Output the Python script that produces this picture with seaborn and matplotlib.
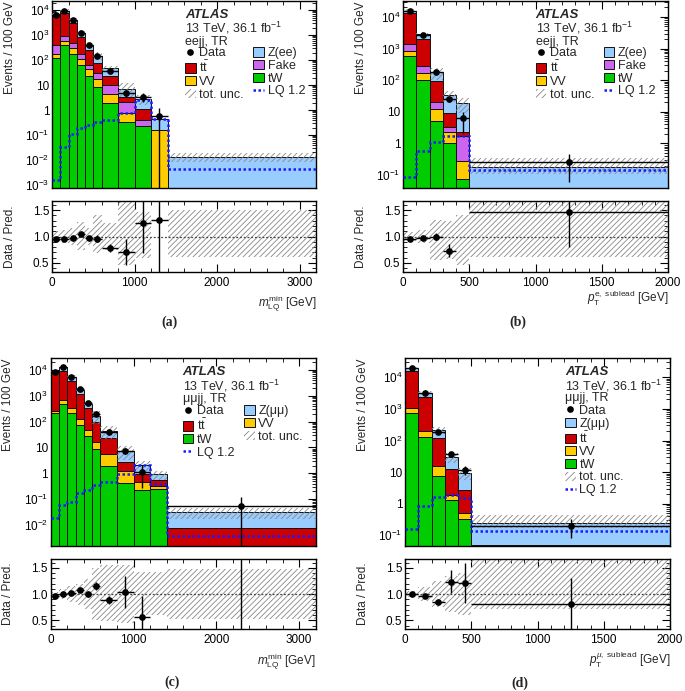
import numpy as np
import pandas as pd
import matplotlib
matplotlib.use("Agg")
import matplotlib.pyplot as plt
import seaborn as sns
from matplotlib.ticker import (FixedLocator, FuncFormatter, MultipleLocator,
                               LogLocator, NullFormatter, FormatStrFormatter)
from matplotlib.patches import Patch
from matplotlib.lines import Line2D

# ---------------- data (values per 100 GeV) ----------------
# (a) eejj, m_LQ^min
A_EDGES = [0, 100, 200, 300, 400, 500, 600, 800, 1000, 1200, 1400, 3200]
A_Z = [700, 1500, 1000, 340, 150, 67, 23, 3.4, 1.63, 0.27, 0.013]
A_TT = [5600, 6960, 2640, 686, 187, 49, 13, 1.3, 0.67, 0, 0]
A_FAKE = [215, 350, 170, 67, 21, 12, 5.6, 1.36, 0.17, 0, 0]
A_VV = [55, 190, 120, 44, 19, 9, 2.45, 0.42, 0, 0.16, 0]
A_TW = [120, 400, 170, 63, 23, 8, 1.95, 0.32, 0.23, 0, 0]
A_LQ = [0.0016, 0.032, 0.11, 0.19, 0.25, 0.33, 0.4, 0.75, 2.6, 0.42, 0.0044]
A_DATA = [6370, 9020, 4020, 1260, 388, 139, 36, 4.8, 3.4, 0.57, np.nan]
A_DATA_ERR = [80, 95, 63, 35, 20, 12, 4.2, 1.6, 1.3, 0.6, np.nan]
A_RATIO = [0.95, 0.96, 0.98, 1.05, 0.97, 0.96, 0.78, 0.71, 1.25, 1.32, np.nan]
A_RATIO_ERR = [0.015, 0.015, 0.02, 0.03, 0.04, 0.06, 0.07, 0.25, 0.57, 1.4, np.nan]
A_UNC_LO = [0.9, 0.88, 0.84, 0.75, 0.84, 0.69, 0.75, 0.47, 0.6, 1.0, 0.62]
A_UNC_HI = [1.1, 1.12, 1.16, 1.27, 1.16, 1.4, 1.25, 1.75, 1.47, 1.0, 1.5]

# (b) eejj, pT sublead electron
B_EDGES = [0, 100, 200, 300, 400, 500, 2000]
B_Z = [2600, 840, 88, 25.5, 17.2, 0.18]
B_TT = [11960, 1680, 74, 6.1, 0.6, 0]
B_FAKE = [590, 110, 9, 1.1, 1.42, 0]
B_VV = [280, 65, 6.7, 1.3, 0.21, 0]
B_TW = [570, 105, 5.3, 1.0, 0.074, 0]
B_LQ = [0.09, 0.58, 1.15, 1.7, 1.7, 0.145]
B_DATA = [15400, 2740, 183, 25.5, 6.2, 0.26]
B_DATA_ERR = [124, 52, 13.5, 5, 4, 0.2]
B_RATIO = [0.96, 0.98, 1.0, 0.73, np.nan, 1.46]
B_RATIO_ERR = [0.01, 0.02, 0.06, 0.12, np.nan, 0.65]
B_UNC_LO = [0.91, 0.88, 0.55, 0.58, 0.47, 0.62]
B_UNC_HI = [1.09, 1.12, 1.32, 1.3, 1.4, 1.9]

# (c) mumujj, m_LQ^min
C_EDGES = [0, 100, 200, 300, 400, 500, 600, 800, 1000, 1200, 1400, 3200]
C_Z = [600, 3700, 1700, 430, 150, 67, 20.6, 4.45, 1.15, 0.36, 0.0246]
C_TT = [7840, 8530, 3350, 1070, 304, 82, 17.6, 1.55, 0.44, 0.22, 0.0074]
C_VV = [40, 200, 133, 58, 19, 7, 3.8, 0.77, 0.24, 0.07, 0]
C_TW = [220, 470, 217, 72, 27, 9, 2.0, 0.43, 0.22, 0.25, 0]
C_LQ = [0.018, 0.057, 0.08, 0.17, 0.22, 0.35, 0.45, 0.95, 2.1, 0.38, 0.0036]
C_DATA = [8440, 12900, 5510, 1760, 505, 190, 39, 7.5, 1.17, np.nan, 0.056]
C_DATA_ERR = [92, 114, 74, 42, 22, 14, 4.4, 1.9, 0.9, np.nan, 0.06]
C_RATIO = [0.97, 1.0, 1.02, 1.08, 1.01, 1.15, 0.89, 1.04, 0.57, np.nan, 1.75]
C_RATIO_ERR = [0.01, 0.01, 0.015, 0.025, 0.04, 0.08, 0.07, 0.3, 0.4, np.nan, 1.8]
C_UNC_LO = [0.95, 0.9, 0.85, 0.8, 0.72, 0.5, 0.48, 0.45, 0.6, 0.6, 0.52]
C_UNC_HI = [1.05, 1.1, 1.15, 1.2, 1.28, 1.5, 1.55, 1.55, 1.42, 1.42, 1.48]

# (d) mumujj, pT sublead muon
D_EDGES = [0, 100, 200, 300, 400, 500, 2000]
D_Z = [4100, 900, 92, 17.4, 6.9, 0.19]
D_TT = [14830, 2100, 107.5, 10.65, 2.19, 0.05]
D_VV = [330, 72, 7.7, 0.65, 0.18, 0]
D_TW = [740, 128, 7.8, 1.3, 0.33, 0]
D_LQ = [0.16, 0.87, 1.6, 1.95, 1.5, 0.14]
D_DATA = [20200, 3100, 183, 37, 11.7, 0.2]
D_DATA_ERR = [140, 56, 13.5, 6, 3.4, 0.12]
D_RATIO = [1.01, 0.97, 0.85, 1.24, 1.22, 0.82]
D_RATIO_ERR = [0.01, 0.02, 0.04, 0.22, 0.38, 0.48]
D_UNC_LO = [0.94, 0.86, 0.75, 0.66, 0.6, 0.71]
D_UNC_HI = [1.06, 1.14, 1.25, 1.34, 1.4, 1.9]

# ---------------- style ----------------
sns.set_theme(style="ticks")
plt.rcParams.update({
    "font.family": ["Liberation Sans", "DejaVu Sans"],
    "mathtext.fontset": "custom",
    "mathtext.rm": "Liberation Sans",
    "mathtext.it": "Liberation Sans:italic",
    "mathtext.bf": "Liberation Sans:bold",
    "axes.linewidth": 1.0,
    "axes.edgecolor": "black",
    "hatch.linewidth": 0.6,
    "font.size": 8.5,
})

COL = {"Z": "#99ccff", "tt": "#cc0000", "Fake": "#cc66ee", "VV": "#ffcc00", "tW": "#00cc00"}
LQ_COL = "#1a1aff"
HATCH_COL = "#888888"
HATCH = "//////"
FS = 8.5
MS = 3.8

fig = plt.figure(figsize=(6.85, 6.91), dpi=100)


def add_axes(left, top, w, h):
    return fig.add_axes([left / 685, 1 - (top + h) / 691, w / 685, h / 691])


def logfmt(v, pos):
    e = int(round(np.log10(v)))
    if e == 0:
        return "1"
    if e == 1:
        return "10"
    return r"$10^{%d}$" % e


def draw_panel(main_box, ratio_box, edges, comps, lq, data, data_err, ratio,
               ratio_err, unc_lo, unc_hi, ylim, xmax, xmaj, xmin_, xlabel,
               chan, legend_cols, tx, xlab_dy, ncol):
    ax = add_axes(*main_box)
    axr = add_axes(*ratio_box)
    edges_list = [float(e) for e in edges]
    edges = np.asarray(edges_list)
    centers = 0.5 * (edges[:-1] + edges[1:])
    widths = np.diff(edges)
    rows = []
    order = []
    for name, vals in comps:
        order.append(name)
        for c, v in zip(centers, vals):
            rows.append((float(c), float(v), name))
    df = pd.DataFrame(rows, columns=["x", "w", "proc"])
    sns.histplot(data=df, x="x", weights="w", hue="proc", hue_order=order,
                 palette={k: COL[k] for k in order}, bins=edges_list,
                 multiple="stack", element="bars", alpha=1, shrink=1,
                 edgecolor="#111111", linewidth=0.7, legend=False, ax=ax)
    total = np.sum([np.asarray(v, float) for _, v in comps], axis=0)
    lo = total * np.asarray(unc_lo)
    hi = total * np.asarray(unc_hi)
    ax.bar(edges[:-1], hi - lo, bottom=lo, width=widths, align="edge",
           facecolor="none", edgecolor=HATCH_COL, hatch=HATCH, lw=0, zorder=3)
    ax.stairs(lq, edges, baseline=None, color=LQ_COL, ls=(0, (1, 1)), lw=1.8, zorder=4)
    ax.errorbar(centers, data, yerr=data_err, xerr=widths / 2, fmt="o", ms=MS,
                color="black", elinewidth=1, capsize=0, zorder=5)
    ax.set_yscale("log")
    ax.set_ylim(*ylim)
    ax.set_xlim(0, xmax)
    ax.set_xlabel("")
    ax.set_ylabel("Events / 100 GeV", fontsize=FS, loc="top")
    ax.yaxis.set_label_coords(-0.137, 1.0)
    ax.yaxis.set_major_locator(LogLocator(base=10, numticks=20))
    ax.yaxis.set_minor_locator(LogLocator(base=10, subs=np.arange(2, 10), numticks=20))
    ax.yaxis.set_major_formatter(FuncFormatter(logfmt))
    ax.yaxis.set_minor_formatter(NullFormatter())
    ax.tick_params(labelbottom=False)

    # ratio
    rlo = np.asarray(unc_lo)
    rhi = np.asarray(unc_hi)
    axr.bar(edges[:-1], rhi - rlo, bottom=rlo, width=widths, align="edge",
            facecolor="none", edgecolor=HATCH_COL, hatch=HATCH, lw=0, zorder=2)
    axr.axhline(1.0, color="#444444", ls=(0, (1.5, 1.5)), lw=0.9, zorder=3)
    axr.errorbar(centers, ratio, yerr=ratio_err, xerr=widths / 2, fmt="o", ms=MS,
                 color="black", elinewidth=1, capsize=0, zorder=5)
    axr.set_xlim(0, xmax)
    axr.set_ylim(0.33, 1.67)
    axr.yaxis.set_major_locator(FixedLocator([0.5, 1.0, 1.5]))
    axr.yaxis.set_major_formatter(FormatStrFormatter("%.1f"))
    axr.yaxis.set_minor_locator(MultipleLocator(0.1))
    axr.set_ylabel("Data / Pred.", fontsize=FS)
    axr.yaxis.set_label_coords(-0.137, 0.5)
    axr.set_xlabel(xlabel, fontsize=FS, loc="right")
    axr.xaxis.label.set_va("baseline")
    axr.xaxis.set_label_coords(1.0, -xlab_dy / ratio_box[3])

    for a in (ax, axr):
        a.xaxis.set_major_locator(MultipleLocator(xmaj))
        a.xaxis.set_minor_locator(MultipleLocator(xmin_))
        a.tick_params(which="both", direction="in", top=True, right=True,
                      labelsize=FS, colors="black")
        a.tick_params(which="major", length=6, width=0.8)
        a.tick_params(which="minor", length=3, width=0.6)
        a.tick_params(axis="y", which="major", pad=2)
        for s in a.spines.values():
            s.set_visible(True)
            s.set_color("black")
            s.set_linewidth(1.0)

    # texts
    x0, ys = tx
    ax.text(x0, ys[0], "ATLAS", transform=ax.transAxes, fontsize=9.5,
            fontweight="bold", fontstyle="italic", va="center", ha="left")
    ax.text(x0, ys[1], r"13 TeV, 36.1 fb$^{-1}$", transform=ax.transAxes,
            fontsize=FS + 0.5, va="center", ha="left")
    ax.text(x0, ys[2], chan, transform=ax.transAxes, fontsize=FS + 0.5,
            va="center", ha="left")
    handles, labels = legend_cols
    ax.legend(handles, labels, loc="upper left", bbox_to_anchor=(x0, ys[3]),
              ncol=ncol, frameon=False, fontsize=FS + 0.5, handlelength=0.85,
              handleheight=0.75, handletextpad=0.3, labelspacing=0.05,
              columnspacing=0.75, borderpad=0, borderaxespad=0)
    return ax, axr


h_data = Line2D([], [], marker="o", ms=MS, color="black", ls="none")
def h_patch(k):
    return Patch(facecolor=COL[k], edgecolor="#111111", lw=0.7)
h_unc = Patch(facecolor="none", edgecolor=HATCH_COL, hatch="/////", lw=0)
h_lq = Line2D([], [], color=LQ_COL, ls=(0, (1, 1)), lw=1.8)
TTB = r"t$\bar{\mathrm{t}}$"

# (a)
draw_panel((52, 1, 264, 187), (52, 201, 264, 71), A_EDGES,
           [("Z", A_Z), ("tt", A_TT), ("Fake", A_FAKE), ("VV", A_VV), ("tW", A_TW)],
           A_LQ, A_DATA, A_DATA_ERR, A_RATIO, A_RATIO_ERR, A_UNC_LO, A_UNC_HI,
           (7.6e-4, 2.3e4), 3200, 1000, 200, r"$m_{\mathrm{LQ}}^{\mathrm{min}}$ [GeV]",
           "eejj, TR",
           ([h_data, h_patch("tt"), h_patch("VV"), h_unc,
             h_patch("Z"), h_patch("Fake"), h_patch("tW"), h_lq],
            ["Data", TTB, "VV", "tot. unc.", "Z(ee)", "Fake", "tW", "LQ 1.2"]),
           (0.504, [0.925, 0.854, 0.782, 0.752]), 34, 2)

# (b)
draw_panel((403, 1, 265, 187), (403, 201, 265, 71), B_EDGES,
           [("Z", B_Z), ("tt", B_TT), ("Fake", B_FAKE), ("VV", B_VV), ("tW", B_TW)],
           B_LQ, B_DATA, B_DATA_ERR, B_RATIO, B_RATIO_ERR, B_UNC_LO, B_UNC_HI,
           (0.039, 3.2e4), 2000, 500, 100,
           r"$p_{\mathrm{T}}^{\mathrm{e,\ sublead}}$ [GeV]",
           "eejj, TR",
           ([h_data, h_patch("tt"), h_patch("VV"), h_unc,
             h_patch("Z"), h_patch("Fake"), h_patch("tW"), h_lq],
            ["Data", TTB, "VV", "tot. unc.", "Z(ee)", "Fake", "tW", "LQ 1.2"]),
           (0.5, [0.925, 0.854, 0.782, 0.752]), 30, 2)

# (c)
draw_panel((50.7, 358.3, 265, 188), (50.7, 559, 265, 70.3), C_EDGES,
           [("Z", C_Z), ("tt", C_TT), ("VV", C_VV), ("tW", C_TW)],
           C_LQ, C_DATA, C_DATA_ERR, C_RATIO, C_RATIO_ERR, C_UNC_LO, C_UNC_HI,
           (1.5e-3, 2.8e4), 3200, 1000, 200, r"$m_{\mathrm{LQ}}^{\mathrm{min}}$ [GeV]",
           "μμjj, TR",
           ([h_data, h_patch("tt"), h_patch("tW"), h_lq,
             h_patch("Z"), h_patch("VV"), h_unc],
            ["Data", TTB, "tW", "LQ 1.2", "Z(μμ)", "VV", "tot. unc."]),
           (0.498, [0.926, 0.853, 0.783, 0.75]), 35.7, 2)

# (d)
draw_panel((405, 358.3, 265, 188), (405, 559, 265, 70.3), D_EDGES,
           [("Z", D_Z), ("tt", D_TT), ("VV", D_VV), ("tW", D_TW)],
           D_LQ, D_DATA, D_DATA_ERR, D_RATIO, D_RATIO_ERR, D_UNC_LO, D_UNC_HI,
           (0.045, 4e4), 2000, 500, 100,
           r"$p_{\mathrm{T}}^{\mu,\ \mathrm{sublead}}$ [GeV]",
           "μμjj, TR",
           ([h_data, h_patch("Z"), h_patch("tt"), h_patch("VV"), h_patch("tW"), h_unc, h_lq],
            ["Data", "Z(μμ)", TTB, "VV", "tW", "tot. unc.", "LQ 1.2"]),
           (0.604, [0.927, 0.854, 0.787, 0.752]), 35.7, 1)

for lab, x, y in [("(a)", 170, 322), ("(b)", 518, 322), ("(c)", 172, 682), ("(d)", 520, 683)]:
    fig.text(x / 685, 1 - y / 691, lab, ha="center", va="center", fontsize=10,
             fontweight="bold", family="Liberation Serif")

fig.savefig("out.png", dpi=100)
